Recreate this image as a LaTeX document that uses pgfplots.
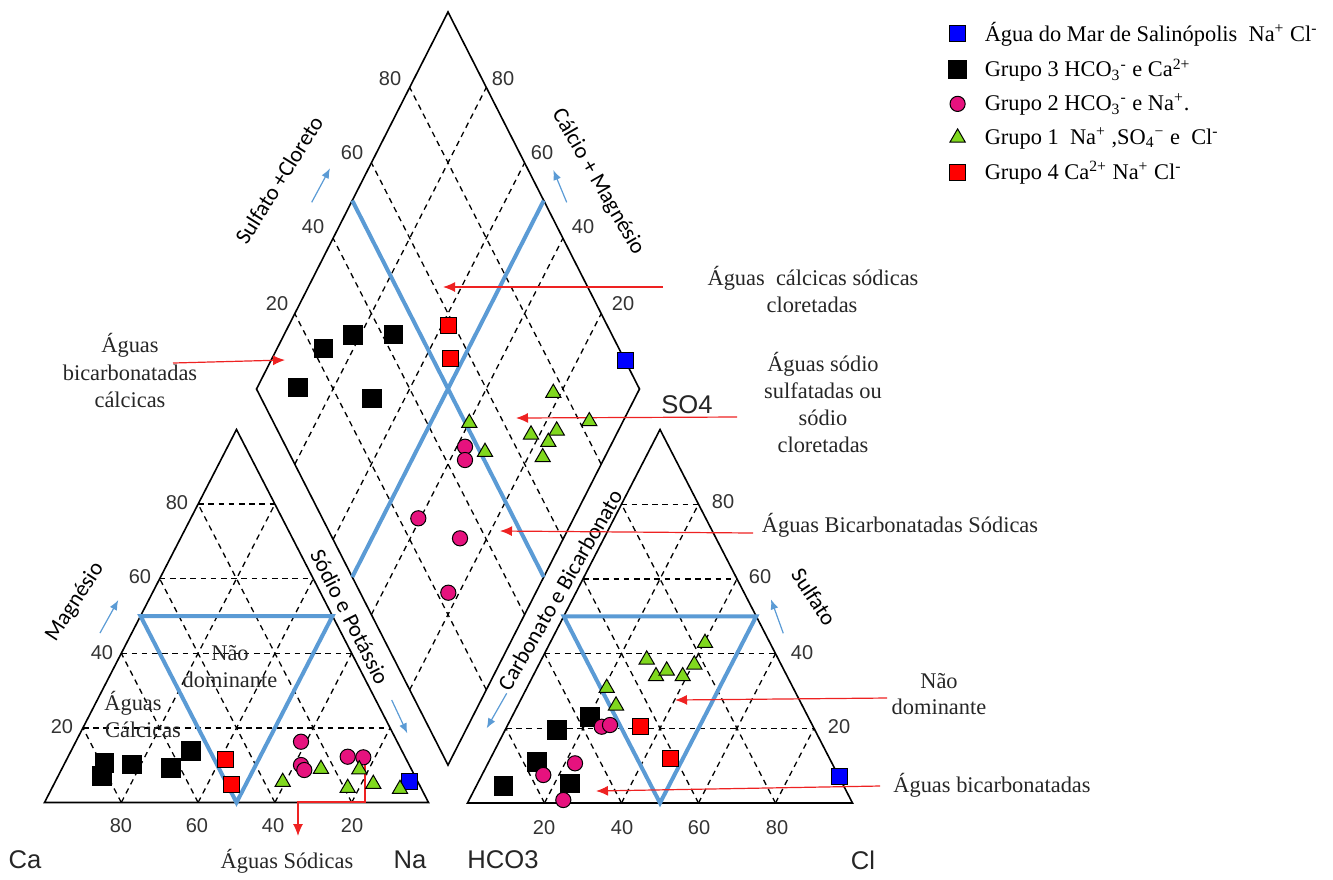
\documentclass[border=0pt]{standalone}
\usepackage{pgfplots}
\pgfplotsset{compat=1.18}
\usepackage{fontspec}
\setmainfont{Liberation Serif}
\newfontfamily\arial{Liberation Sans}
\newfontfamily\calibri{Carlito}
\usetikzlibrary{arrows.meta,calc}
\definecolor{pblue}{HTML}{5B9BD5}
\definecolor{ppink}{HTML}{E6127E}
\definecolor{lgreen}{HTML}{80D81E}
\definecolor{ared}{HTML}{EE2222}
\tikzset{
  gridd/.style={black, line width=0.65pt, dash pattern=on 2.8pt off 2.3pt},
  edge/.style={black, line width=0.8pt},
  bluel/.style={pblue, line width=2pt},
  barr/.style={pblue, line width=0.6pt, -{Latex[length=5pt,width=4pt]}},
  rarr/.style={ared, line width=0.6pt, -{Latex[length=6pt,width=5pt]}},
  tick/.style={font=\arial\fontsize{10}{12}\selectfont, text=black!80},
  corner/.style={font=\arial\fontsize{12.8}{14}\selectfont, text=black!85},
  ttl/.style={font=\calibri\fontsize{11.2}{13}\selectfont},
  ann/.style={font=\fontsize{11.2}{13}\selectfont, text=black!85},
}
\begin{document}
\begin{tikzpicture}
\begin{axis}[
  scale only axis, width=666.5pt, height=438pt,
  xmin=0, xmax=1333, ymin=0, ymax=876, y dir=reverse,
  hide axis, clip=false,
  legend cell align=left,
  legend style={at={(axis cs:948,18)}, anchor=north west, draw=none, fill=none,
    font=\fontsize{11.2}{13}\selectfont, row sep=3pt, inner sep=0pt,
    /tikz/every odd column/.append style={column sep=7pt}},
]
% frame of the picture
\path (axis cs:0,0) (axis cs:1333,876);
% corner points
\coordinate (A1) at (axis cs:44.5,802.5);
\coordinate (B1) at (axis cs:428.5,802.5);
\coordinate (C1) at (axis cs:236.5,429.5);
\coordinate (A2) at (axis cs:467.5,803);
\coordinate (B2) at (axis cs:852.5,803);
\coordinate (C2) at (axis cs:660,429.5);
\coordinate (T) at (axis cs:448,12);
\coordinate (L) at (axis cs:256.5,389);
\coordinate (R) at (axis cs:639.5,389);
\coordinate (D) at (axis cs:448,765);
% dashed grids
\pgfplotsinvokeforeach{0.2,0.4,0.6,0.8}{
  \draw[gridd] ($(A1)!#1!(C1)$) -- ($(B1)!#1!(C1)$);
  \draw[gridd] ($(A1)!#1!(B1)$) -- ($(C1)!#1!(B1)$);
  \draw[gridd] ($(B1)!#1!(A1)$) -- ($(C1)!#1!(A1)$);
  \draw[gridd] ($(A2)!#1!(C2)$) -- ($(B2)!#1!(C2)$);
  \draw[gridd] ($(A2)!#1!(B2)$) -- ($(C2)!#1!(B2)$);
  \draw[gridd] ($(B2)!#1!(A2)$) -- ($(C2)!#1!(A2)$);
  \draw[gridd] ($(L)!#1!(D)$) -- ($(T)!#1!(R)$);
  \draw[gridd] ($(D)!#1!(R)$) -- ($(L)!#1!(T)$);
}
% outlines
\draw[edge] (A1) -- (B1) -- (C1) -- cycle;
\draw[edge] (A2) -- (B2) -- (C2) -- cycle;
\draw[edge] (T) -- (L) -- (D) -- (R) -- cycle;
% blue classification lines
\draw[bluel] ($(A1)!0.5!(C1)$) -- ($(B1)!0.5!(C1)$) -- ($(A1)!0.5!(B1)$) -- cycle;
\draw[bluel] ($(A2)!0.5!(C2)$) -- ($(B2)!0.5!(C2)$) -- ($(A2)!0.5!(B2)$) -- cycle;
\draw[bluel] ($(T)!0.5!(L)$) -- ($(R)!0.5!(D)$);
\draw[bluel] ($(T)!0.5!(R)$) -- ($(L)!0.5!(D)$);
% tick labels: left triangle
\node[tick] at (axis cs:121,826) {80};
\node[tick] at (axis cs:197,826) {60};
\node[tick] at (axis cs:273,826) {40};
\node[tick] at (axis cs:352,826) {20};
\node[tick] at (axis cs:177,502.5) {80};
\node[tick] at (axis cs:140,577) {60};
\node[tick] at (axis cs:102,652.5) {40};
\node[tick] at (axis cs:62,727) {20};
% right triangle
\node[tick] at (axis cs:544,828) {20};
\node[tick] at (axis cs:622,828) {40};
\node[tick] at (axis cs:699,828) {60};
\node[tick] at (axis cs:777,828) {80};
\node[tick] at (axis cs:723,502) {80};
\node[tick] at (axis cs:760,577) {60};
\node[tick] at (axis cs:802,652.5) {40};
\node[tick] at (axis cs:839,727) {20};
% diamond
\node[tick] at (axis cs:390,78.5) {80};
\node[tick] at (axis cs:352,153) {60};
\node[tick] at (axis cs:313,227) {40};
\node[tick] at (axis cs:277,303.5) {20};
\node[tick] at (axis cs:503,78.5) {80};
\node[tick] at (axis cs:542,153) {60};
\node[tick] at (axis cs:583,227) {40};
\node[tick] at (axis cs:623,303.5) {20};
% corner labels
\node[corner] at (axis cs:25,860) {Ca};
\node[corner] at (axis cs:410,860) {Na};
\node[corner] at (axis cs:503,860) {HCO3};
\node[corner] at (axis cs:863,860) {Cl};
\node[corner] at (axis cs:687,405) {SO4};
% axis titles
\node[ttl, rotate=58] at (axis cs:279,180) {Sulfato +Cloreto};
\node[ttl, rotate=-60] at (axis cs:598,182) {Cálcio + Magnésio};
\node[ttl, rotate=57] at (axis cs:75,602) {Magnésio};
\node[ttl, rotate=-63] at (axis cs:350,617) {Sódio e Potássio};
\node[ttl, rotate=60] at (axis cs:560,590) {Carbonato e Bicarbonato};
\node[ttl, rotate=-57] at (axis cs:814,597) {Sulfato};
% blue arrows
\draw[barr] (axis cs:311.7,202.3) -- (axis cs:330,168.3);
\draw[barr] (axis cs:566.7,202.3) -- (axis cs:553.3,170);
\draw[barr] (axis cs:100,633) -- (axis cs:118.3,600);
\draw[barr] (axis cs:391.7,700) -- (axis cs:407.3,733.3);
\draw[barr] (axis cs:783.3,633.3) -- (axis cs:771,599.3);
\draw[barr] (axis cs:506.7,693.3) -- (axis cs:486.7,728.3);
% red arrows
\draw[rarr] (axis cs:663,287) -- (axis cs:443,287);
\draw[rarr] (axis cs:173,363) -- (axis cs:285,360);
\draw[rarr] (axis cs:737,417) -- (axis cs:516,418);
\draw[rarr] (axis cs:753,533) -- (axis cs:500,531);
\draw[rarr] (axis cs:887,698) -- (axis cs:675,700);
\draw[rarr] (axis cs:880,786) -- (axis cs:596,791);
\draw[rarr] (axis cs:365,763) -- (axis cs:365,802) -- (axis cs:298,802) -- (axis cs:298,836);
% annotations
\node[ann] at (axis cs:813,278) {Águas\ \ cálcicas sódicas};
\node[ann] at (axis cs:812,305) {cloretadas};
\node[ann] at (axis cs:823,364) {Águas sódio};
\node[ann] at (axis cs:823,391) {sulfatadas ou};
\node[ann] at (axis cs:823,418) {sódio};
\node[ann] at (axis cs:823,445) {cloretadas};
\node[ann] at (axis cs:900,525) {Águas Bicarbonatadas Sódicas};
\node[ann] at (axis cs:939,681) {Não};
\node[ann] at (axis cs:939,707) {dominante};
\node[ann] at (axis cs:992,785) {Águas bicarbonatadas};
\node[ann] at (axis cs:130,345) {Águas};
\node[ann] at (axis cs:130,373) {bicarbonatadas};
\node[ann] at (axis cs:130,400) {cálcicas};
\node[ann] at (axis cs:230,653) {Não};
\node[ann] at (axis cs:230,680) {dominante};
\node[ann] at (axis cs:133,703) {Águas};
\node[ann] at (axis cs:143,730) {Cálcicas};
\node[ann] at (axis cs:287,861) {Águas Sódicas};
% data
\addplot[only marks, mark=square*, mark size=4pt, mark options={fill=blue, draw=black, line width=0.5pt}]
  coordinates {(409.3,781.7) (625,360) (839.3,776)};
\addlegendentry{Água do Mar de Salinópolis\ \ Na\textsuperscript{+} Cl\textsuperscript{-}}
\addplot[only marks, mark=square*, mark size=4.6pt, mark options={fill=black, draw=black}]
  coordinates {(104.3,762.7) (101.7,776) (131.7,764.3) (171,767.7) (191,750.7)
    (323.3,348.3) (352.7,335) (393.3,334.3) (297.7,387.3) (371.7,398.3)
    (503.3,786) (536.7,761.7) (556.7,730) (590,716.7) (570,783.3)};
\addlegendentry{Grupo 3 HCO\textsubscript{3}\textsuperscript{-} e Ca\textsuperscript{2+}}
\addplot[only marks, mark=*, mark size=3.8pt, mark options={fill=ppink, draw=black, line width=0.5pt}]
  coordinates {(301,741.7) (301,765) (304.3,770) (347.7,756.7) (363.3,757.3)
    (465,446.7) (465,460) (418.3,518.3) (460,538.3) (448.3,592.7)
    (601.7,726.7) (610,725) (575,763.3) (543.3,775) (563.3,800)};
\addlegendentry{Grupo 2 HCO\textsubscript{3}\textsuperscript{-} e Na\textsuperscript{+}.}
\addplot[only marks, mark=triangle*, mark size=4.4pt, mark options={fill=lgreen, draw=black, line width=0.5pt}]
  coordinates {(282.7,782) (321,769) (359.3,769.5) (347.7,788) (373.3,784) (400,789)
    (553.3,393) (589.3,421.3) (469.3,423) (531,434.6) (556.7,430.6) (548.3,442) (542.7,457.3) (485,452)
    (606.7,688) (616,705.6) (646.7,659.6) (656,676.3) (666.7,670.6) (682.7,676.3) (694.3,664.6) (705,643)};
\addlegendentry{Grupo 1\ \ Na\textsuperscript{+} ,SO\textsubscript{4}\textsuperscript{\textminus} e\ \ Cl\textsuperscript{-}}
\addplot[only marks, mark=square*, mark size=4pt, mark options={fill=red, draw=black, line width=0.5pt}]
  coordinates {(225.7,759.3) (231,784.3) (448.3,325) (450,358.3) (640,726.7) (670,758.3)};
\addlegendentry{Grupo 4 Ca\textsuperscript{2+} Na\textsuperscript{+} Cl\textsuperscript{-}}
\end{axis}
\end{tikzpicture}
\end{document}
